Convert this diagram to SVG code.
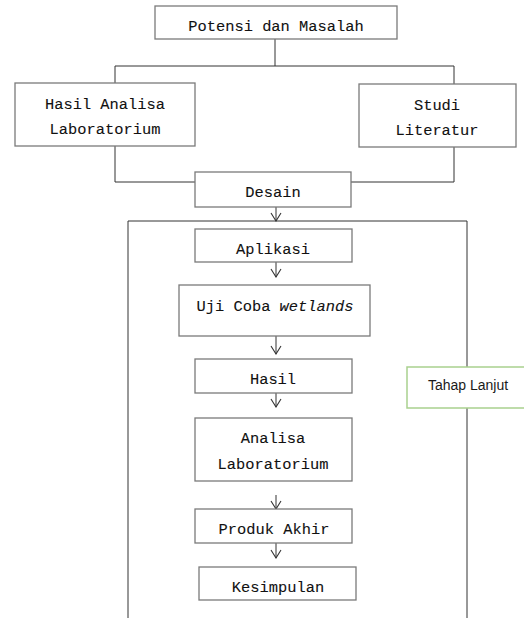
<svg xmlns="http://www.w3.org/2000/svg" width="524" height="618" viewBox="0 0 524 618">
<defs>
<style>
.box{fill:#fff;stroke:#7a7a7a;stroke-width:1.3}
.t{font-family:"Liberation Mono",monospace;font-size:15.4px;fill:#111;stroke:#111;stroke-width:0.1;text-anchor:middle}
.ln{fill:none;stroke:#333;stroke-width:1}
.gbox{fill:#fff;stroke:#a9d18e;stroke-width:1.5}
.s{font-family:"Liberation Sans","Open Sans",sans-serif;font-size:14px;fill:#1a1a1a;text-anchor:middle}
</style>
<marker id="ah" viewBox="0 0 12 12" refX="11" refY="6" markerWidth="12" markerHeight="12" markerUnits="userSpaceOnUse" orient="auto">
<path d="M3,1 L11,6 L3,11" fill="none" stroke="#333" stroke-width="1.1"/>
</marker>
</defs>
<rect width="524" height="618" fill="#fff"/>
<g id="connectors">
<path class="ln" d="M275,39 V66 M115,66 H454 M115,66 V83 M454,66 V84"/>
<path class="ln" d="M115,146 V182 H195 M454,147 V182 H351"/>
<path class="ln" d="M128,618 V221 H467 V367 M467,408 V618"/>
<path class="ln" marker-end="url(#ah)" d="M276,207 V221"/>
<path class="ln" marker-end="url(#ah)" d="M276,262 V277"/>
<path class="ln" marker-end="url(#ah)" d="M276,336 V354"/>
<path class="ln" marker-end="url(#ah)" d="M276,393 V407"/>
<path class="ln" marker-end="url(#ah)" d="M276,495 V509"/>
<path class="ln" marker-end="url(#ah)" d="M276,543 V558"/>
</g>
<g id="potensi"><rect class="box" x="155" y="6" width="242" height="33"/><text class="t" x="276" y="31">Potensi dan Masalah</text></g>
<g id="hasil-analisa"><rect class="box" x="15" y="83" width="180" height="63"/><text class="t" x="105" y="109">Hasil Analisa</text><text class="t" x="105" y="134">Laboratorium</text></g>
<g id="studi"><rect class="box" x="359" y="84" width="157" height="63"/><text class="t" x="437" y="110">Studi</text><text class="t" x="437" y="135">Literatur</text></g>
<g id="desain"><rect class="box" x="195" y="172" width="156" height="35"/><text class="t" x="273" y="197">Desain</text></g>
<g id="aplikasi"><rect class="box" x="195" y="229" width="157" height="33"/><text class="t" x="273" y="254">Aplikasi</text></g>
<g id="ujicoba"><rect class="box" x="179" y="285" width="191" height="51"/><text class="t" x="275" y="311">Uji Coba <tspan font-style="italic">wetlands</tspan></text></g>
<g id="hasil"><rect class="box" x="195" y="359" width="157" height="34"/><text class="t" x="273" y="384">Hasil</text></g>
<g id="analisa"><rect class="box" x="195" y="418" width="157" height="63"/><text class="t" x="273" y="443">Analisa</text><text class="t" x="273" y="469">Laboratorium</text></g>
<g id="produk"><rect class="box" x="195" y="509" width="157" height="34"/><text class="t" x="274" y="534">Produk Akhir</text></g>
<g id="kesimpulan"><rect class="box" x="199" y="567" width="157" height="33"/><text class="t" x="278" y="592">Kesimpulan</text></g>
<g id="tahap"><rect class="gbox" x="407" y="367" width="130" height="41"/><text class="s" x="468" y="390">Tahap Lanjut</text></g>
</svg>
